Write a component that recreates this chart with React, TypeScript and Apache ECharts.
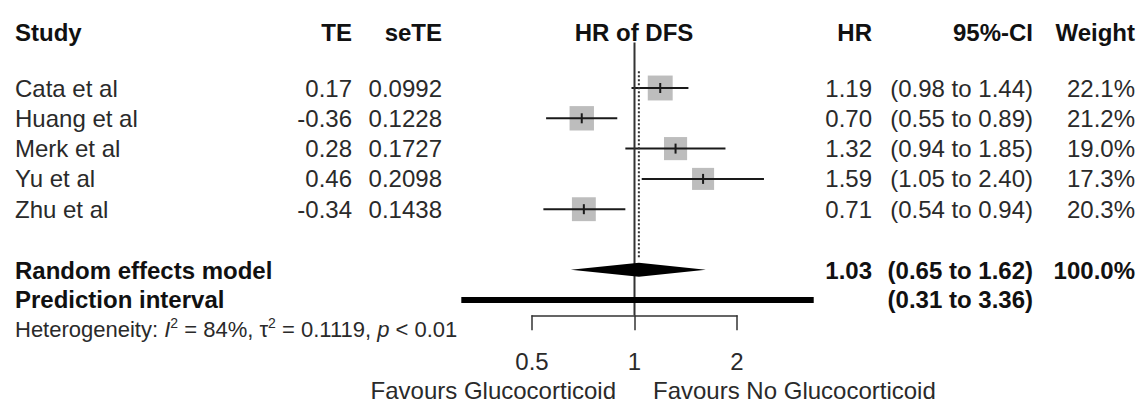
import React, { useEffect, useRef } from "react";
import * as echarts from "echarts";

// ---------- data ----------
const studies = ["Cata et al", "Huang et al", "Merk et al", "Yu et al", "Zhu et al"];
const te = [0.17, -0.36, 0.28, 0.46, -0.34];
const seTE = [0.0992, 0.1228, 0.1727, 0.2098, 0.1438];
const hr = [1.19, 0.7, 1.32, 1.59, 0.71];
const ciLow = [0.98, 0.55, 0.94, 1.05, 0.54];
const ciHigh = [1.44, 0.89, 1.85, 2.4, 0.94];
const weights = [22.1, 21.2, 19.0, 17.3, 20.3];
const studyRows = [1, 2, 3, 4, 5];

const pooled = [1.03, 0.65, 1.62]; // HR, low, high
const pooledWeight = 100.0;
const pooledRow = 7;
const predInterval = [0.31, 3.36];
const predRow = 8;
const hetI2 = "84%";
const hetTau2 = "0.1119";
const hetP = "< 0.01";
const xTicks = [0.5, 1, 2];
const headers = ["Study", "TE", "seTE", "HR of DFS", "HR", "95%-CI", "Weight"];
const favourLabels = ["Favours Glucocorticoid", "Favours No Glucocorticoid"];

// ---------- layout ----------
const FONT = "'Liberation Sans', Arial, Helvetica, sans-serif";
const FS = 24;
const REG = "#2a2a2a";
const BOLD = "#111111";
const rowY = (r: number) => 88 + (r - 1) * 30.3;
const COL = { study: 15, te: 352, se: 442, plot: 634, hr: 872, ci: 1033, w: 1135 };

function txt(text: string, x: number, y: number, align: string, bold = false, size = FS) {
  return {
    type: "text",
    x,
    y,
    silent: true,
    style: {
      text,
      fontSize: size,
      fontFamily: FONT,
      fontWeight: bold ? "bold" : "normal",
      fill: bold ? BOLD : REG,
      align,
      verticalAlign: "middle",
    },
  };
}

export default function App() {
  const ref = useRef<HTMLDivElement>(null);
  useEffect(() => {
    if (!ref.current) return;
    const chart = echarts.init(ref.current, null, { renderer: "svg" });

    const graphics: any[] = [];
    const hy = 32;
    graphics.push(txt(headers[0], COL.study, hy, "left", true));
    graphics.push(txt(headers[1], COL.te, hy, "right", true));
    graphics.push(txt(headers[2], COL.se, hy, "right", true));
    graphics.push(txt(headers[3], COL.plot, hy, "center", true));
    graphics.push(txt(headers[4], COL.hr, hy, "right", true));
    graphics.push(txt(headers[5], COL.ci, hy, "right", true));
    graphics.push(txt(headers[6], COL.w, hy, "right", true));

    studies.forEach((s, i) => {
      const y = rowY(studyRows[i]);
      graphics.push(txt(s, COL.study, y, "left"));
      graphics.push(txt(te[i].toFixed(2), COL.te, y, "right"));
      graphics.push(txt(seTE[i].toFixed(4), COL.se, y, "right"));
      graphics.push(txt(hr[i].toFixed(2), COL.hr, y, "right"));
      graphics.push(
        txt(`(${ciLow[i].toFixed(2)} to ${ciHigh[i].toFixed(2)})`, COL.ci, y, "right")
      );
      graphics.push(txt(weights[i].toFixed(1) + "%", COL.w, y, "right"));
    });

    const py = rowY(pooledRow) + 1;
    graphics.push(txt("Random effects model", COL.study, py, "left", true));
    graphics.push(txt(pooled[0].toFixed(2), COL.hr, py, "right", true));
    graphics.push(
      txt(`(${pooled[1].toFixed(2)} to ${pooled[2].toFixed(2)})`, COL.ci, py, "right", true)
    );
    graphics.push(txt(pooledWeight.toFixed(1) + "%", COL.w, py, "right", true));

    const pry = rowY(predRow) - 1;
    graphics.push(txt("Prediction interval", COL.study, pry, "left", true));
    graphics.push(
      txt(
        `(${predInterval[0].toFixed(2)} to ${predInterval[1].toFixed(2)})`,
        COL.ci,
        pry,
        "right",
        true
      )
    );

    // heterogeneity line (rich text with superscripts)
    graphics.push({
      type: "text",
      x: 15,
      y: 329,
      silent: true,
      style: {
        text:
          "{a|Heterogeneity: }{i|I}{s|2}{a| = " +
          hetI2 +
          ", τ}{s|2}{a| = " +
          hetTau2 +
          ", }{i|p}{a| " +
          hetP +
          "}",
        fontFamily: FONT,
        fontSize: 22,
        fill: REG,
        align: "left",
        verticalAlign: "middle",
        rich: {
          a: { fontSize: 22, fontFamily: FONT, fill: REG, lineHeight: 26 },
          i: { fontSize: 22, fontFamily: FONT, fill: REG, fontStyle: "italic", lineHeight: 26 },
          s: { fontSize: 14, fontFamily: FONT, fill: REG, lineHeight: 14, verticalAlign: "top" },
        },
      },
    });

    graphics.push(txt(favourLabels[0], 616, 390, "right"));
    graphics.push(txt(favourLabels[1], 653, 390, "left"));

    const studyData = studies.map((_, i) => [hr[i], ciLow[i], ciHigh[i], weights[i], studyRows[i]]);

    const option: any = {
      animation: false,
      backgroundColor: "#ffffff",
      grid: { left: 532, right: 1139 - 737, top: 12.25, bottom: 403 - 315.25 },
      xAxis: {
        type: "log",
        logBase: 2,
        position: "bottom",
        min: xTicks[0],
        max: xTicks[xTicks.length - 1],
        axisLine: { show: true, onZero: false, lineStyle: { color: "#333", width: 1.5 } },
        axisTick: { show: true, inside: false, length: 15, lineStyle: { color: "#333", width: 1.5 } },
        axisLabel: {
          show: true,
          fontSize: FS,
          fontFamily: FONT,
          color: REG,
          margin: 34,
          formatter: (v: number) => String(Number(v.toPrecision(3))),
        },
        splitLine: { show: false },
        minorTick: { show: false },
      },
      yAxis: { type: "value", inverse: true, min: -1.5, max: 8.5, show: false },
      graphic: graphics,
      series: [
        {
          type: "custom",
          clip: false,
          encode: { x: 0, y: 4 },
          data: studyData,
          renderItem: (params: any, api: any) => {
            const row = api.value(4);
            const c = api.coord([api.value(0), row]);
            const l = api.coord([api.value(1), row]);
            const h = api.coord([api.value(2), row]);
            const side = 5.3 * Math.sqrt(api.value(3));
            return {
              type: "group",
              children: [
                {
                  type: "rect",
                  shape: { x: c[0] - side / 2, y: c[1] - side / 2, width: side, height: side },
                  style: { fill: "#bdbdbd" },
                },
                {
                  type: "line",
                  shape: { x1: l[0], y1: l[1], x2: h[0], y2: h[1] },
                  style: { stroke: "#1a1a1a", lineWidth: 2 },
                },
                {
                  type: "line",
                  shape: { x1: c[0], y1: c[1] - 5, x2: c[0], y2: c[1] + 5 },
                  style: { stroke: "#1a1a1a", lineWidth: 2 },
                },
              ],
            };
          },
        },
        {
          type: "line",
          clip: false,
          symbol: "none",
          data: [
            [1, -0.5],
            [1, 8.5],
          ],
          lineStyle: { color: "#333", width: 2 },
          z: 3,
        },
        {
          type: "line",
          clip: false,
          symbol: "none",
          data: [
            [pooled[0], 0.45],
            [pooled[0], 6.6],
          ],
          lineStyle: { color: "#333", width: 2, type: "dotted" },
          z: 3,
        },
        {
          type: "custom",
          clip: false,
          encode: { x: 0, y: 3 },
          data: [[pooled[0], pooled[1], pooled[2], pooledRow]],
          renderItem: (params: any, api: any) => {
            const row = api.value(3);
            const c = api.coord([api.value(0), row]);
            const l = api.coord([api.value(1), row]);
            const h = api.coord([api.value(2), row]);
            const hh = 7;
            return {
              type: "polygon",
              shape: {
                points: [
                  [l[0], l[1]],
                  [c[0], c[1] - hh],
                  [h[0], h[1]],
                  [c[0], c[1] + hh],
                ],
              },
              style: { fill: "#000" },
              z2: 5,
            };
          },
          z: 4,
        },
        {
          type: "custom",
          clip: false,
          encode: { x: 0, y: 2 },
          data: [[predInterval[0], predInterval[1], predRow]],
          renderItem: (params: any, api: any) => {
            const row = api.value(2);
            const l = api.coord([api.value(0), row]);
            const h = api.coord([api.value(1), row]);
            return {
              type: "line",
              shape: { x1: l[0], y1: l[1], x2: h[0], y2: h[1] },
              style: { stroke: "#000", lineWidth: 6 },
            };
          },
          z: 4,
        },
      ],
    };
    chart.setOption(option);
    return () => chart.dispose();
  }, []);

  return (
    <div
      ref={ref}
      style={{ position: "absolute", left: 0, top: 0, width: 1139, height: 403, background: "#fff" }}
    />
  );
}
